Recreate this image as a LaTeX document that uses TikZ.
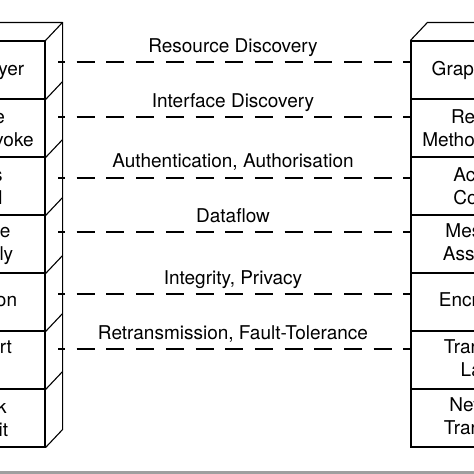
\documentclass[tikz,border=0pt]{standalone}
\usepackage{fontspec}
\setmainfont{TeX Gyre Heros}
\usetikzlibrary{calc}
\begin{document}
\begin{tikzpicture}[x=1pt,y=-1pt,
  layer/.style={draw, line width=1.1pt, rectangle, minimum width=146pt, minimum height=58pt,
    inner sep=0pt, align=center, font=\fontsize{19pt}{22.5pt}\selectfont},
  edge/.style={line width=1.1pt, line join=round},
  link/.style={line width=1.1pt, dash pattern=on 18pt off 11.7pt, dash phase=11pt},
  lbl/.style={anchor=base, inner sep=0pt, font=\fontsize{19pt}{22.5pt}\selectfont}]
\useasboundingbox (0,0) rectangle (474,474);
\fill[white] (0,0) rectangle (474,474);
\clip (0,0) rectangle (474,474);
% left stack
\node[layer] (L1) at (-28,70) {Graph Layer};
\node[layer] (L2) at (-28,128) {Remote\\Method Invoke};
\node[layer] (L3) at (-28,186) {Access\\Control};
\node[layer] (L4) at (-28,244) {Message\\Assembly};
\node[layer] (L5) at (-28,302) {Encryption};
\node[layer] (L6) at (-28,360) {Transport\\Layer};
\node[layer] (L7) at (-28,418) {Network\\Transmit};
\draw[edge] (L1.north west) -- ++(17,-18) -- ($(L1.north east)+(17,-18)$) -- (L1.north east);
\draw[edge] ($(L1.north east)+(17,-18)$) -- ($(L7.south east)+(17,-18)$) -- (L7.south east);
\foreach \i in {1,...,6}{\draw[edge] (L\i.south east) -- ++(17,-18);}
% right stack
\node[layer] (R1) at (484,70) {Graph Layer};
\node[layer] (R2) at (484,128) {Remote\\Method Invoke};
\node[layer] (R3) at (484,186) {Access\\Control};
\node[layer] (R4) at (484,244) {Message\\Assembly};
\node[layer] (R5) at (484,302) {Encryption};
\node[layer] (R6) at (484,360) {Transport\\Layer};
\node[layer] (R7) at (484,418) {Network\\Transport};
\draw[edge] (R1.north west) -- ++(17,-18) -- ($(R1.north east)+(17,-18)$) -- (R1.north east);
% connectors
\coordinate (a1) at (58,62);
\coordinate (a2) at (58,117);
\coordinate (a3) at (58,178);
\coordinate (a4) at (58,232);
\coordinate (a5) at (58,294);
\coordinate (a6) at (58,349);
\foreach \i in {1,...,6}{\draw[link] (a\i) -- (a\i -| R1.west);}
% labels
\node[lbl] (t1) at (233,52) {Resource Discovery};
\node[lbl] (t2) at (233,107) {Interface Discovery};
\node[lbl] (t3) at (233,167.5) {Authentication, Authorisation};
\node[lbl] (t4) at (233,222) {Dataflow};
\node[lbl] (t5) at (233,284.5) {Integrity, Privacy};
\node[lbl] (t6) at (233,339) {Retransmission, Fault-Tolerance};
% bottom band
\fill[gray!75] (0,471) rectangle (474,474);
\end{tikzpicture}
\end{document}
